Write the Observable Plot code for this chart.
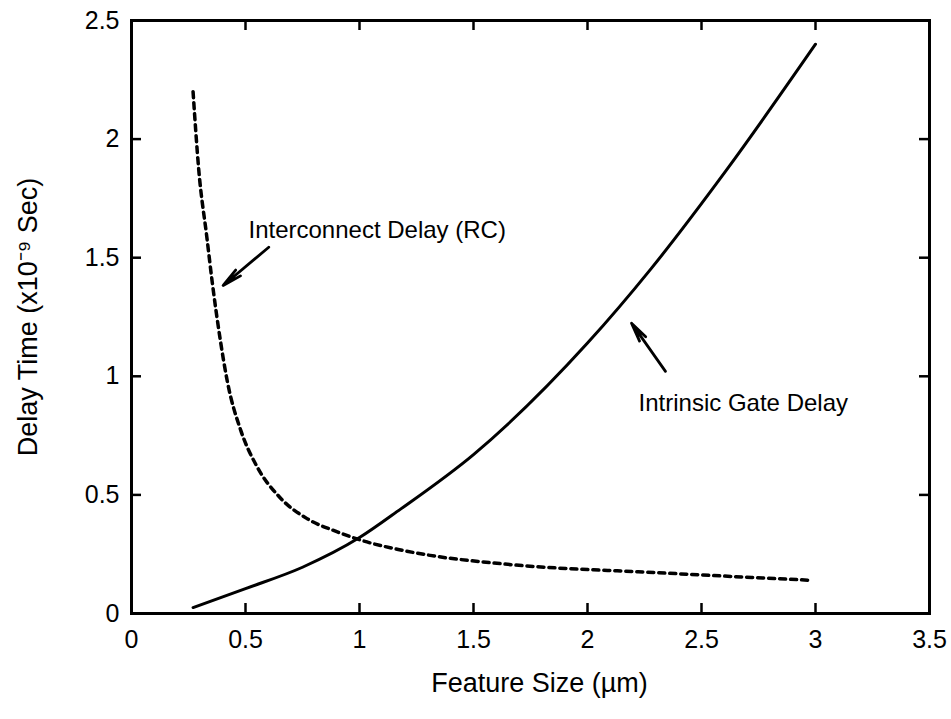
<!DOCTYPE html>
<html>
<head>
<meta charset="utf-8">
<script src="https://cdn.jsdelivr.net/npm/d3@7"></script>
<script src="https://cdn.jsdelivr.net/npm/@observablehq/plot@0.6"></script>
<style>
  html, body { margin: 0; padding: 0; background: #fff; }
  #chart { width: 951px; height: 719px; }
</style>
</head>
<body>
<div id="chart"></div>
<script>
// Intrinsic gate delay (solid curve)
const gateX = [0.27, 0.5, 0.75, 1.0, 1.18, 1.5, 2.0, 2.28, 2.61, 3.0];
const gateY = [0.025, 0.105, 0.195, 0.32, 0.44, 0.67, 1.14, 1.455, 1.87, 2.40];

// Interconnect delay RC (dashed curve)
const rcX = [0.27, 0.295, 0.33, 0.355, 0.39, 0.42, 0.48, 0.55, 0.65, 0.77, 0.90, 1.02, 1.17, 1.31, 1.62, 2.35, 2.98];
const rcY = [2.20, 1.87, 1.59, 1.39, 1.15, 0.98, 0.77, 0.62, 0.49, 0.40, 0.345, 0.305, 0.27, 0.245, 0.21, 0.17, 0.14];

// Ticks
const xTicks = [0, 0.5, 1, 1.5, 2, 2.5, 3, 3.5];
const yTicks = [0, 0.5, 1, 1.5, 2, 2.5];

// Labels
const xLabel = "Feature Size (\u00b5m)";
const yLabel = "Delay Time (x10\u207b\u2079 Sec)";
const annoText = ["Interconnect Delay (RC)", "Intrinsic Gate Delay"];
const annoX = [0.513, 2.224];
const annoY = [1.615, 0.885];
// arrows: tail -> tip
const arrowX1 = [0.602, 2.342];
const arrowY1 = [1.544, 1.021];
const arrowX2 = [0.402, 2.193];
const arrowY2 = [1.383, 1.224];

const gate = gateX.map((x, i) => ({x, y: gateY[i]}));
const rc = rcX.map((x, i) => ({x, y: rcY[i]}));
const annos = annoText.map((t, i) => ({t, x: annoX[i], y: annoY[i]}));
const arrows = arrowX1.map((x1, i) => ({x1, y1: arrowY1[i], x2: arrowX2[i], y2: arrowY2[i]}));

const W = 951, H = 719;
const mL = 131, mR = 22, mT = 20, mB = 106;
const frameW = W - mL - mR, frameH = H - mT - mB;
const tickLen = 10;
const fontSize = 24;
const tickStyle = {stroke: "#000", strokeWidth: 2.5, strokeOpacity: 1};

const chart = Plot.plot({
  width: W,
  height: H,
  marginLeft: mL,
  marginRight: mR,
  marginTop: mT,
  marginBottom: mB,
  style: {fontFamily: "'Liberation Sans', Arial, Helvetica, sans-serif", color: "#000", background: "#fff"},
  x: {domain: [0, 3.5]},
  y: {domain: [0, 2.5]},
  marks: [
    // tick labels
    Plot.axisX(xTicks, {anchor: "bottom", tickSize: 0, tickPadding: 17, fontSize: 25, label: null, tickFormat: d => String(d)}),
    Plot.axisY(yTicks, {anchor: "left", tickSize: 0, tickPadding: 12, fontSize: 25, label: null, tickFormat: d => String(d)}),
    // inward ticks: full-span tick marks trimmed with pixel insets
    Plot.tickX(xTicks, {x: d => d, insetTop: frameH - tickLen, ...tickStyle}),
    Plot.tickX(xTicks, {x: d => d, insetBottom: frameH - tickLen, ...tickStyle}),
    Plot.tickY(yTicks, {y: d => d, insetRight: frameW - tickLen, ...tickStyle}),
    Plot.tickY(yTicks, {y: d => d, insetLeft: frameW - tickLen, ...tickStyle}),
    Plot.frame({stroke: "#000", strokeWidth: 3}),
    // curves
    Plot.line(rc, {x: "x", y: "y", curve: "monotone-x", stroke: "#000", strokeWidth: 3.5, strokeDasharray: "6,5"}),
    Plot.line(gate, {x: "x", y: "y", curve: "monotone-x", stroke: "#000", strokeWidth: 3}),
    // annotations
    Plot.text(annos, {x: "x", y: "y", text: "t", textAnchor: "start", fontSize, fill: "#000"}),
    Plot.arrow(arrows, {x1: "x1", y1: "y1", x2: "x2", y2: "y2", stroke: "#000", strokeWidth: 2.8, headLength: 16, headAngle: 22}),
    // axis titles
    Plot.text([xLabel], {frameAnchor: "bottom", dx: 9, dy: 78, textAnchor: "middle", fontSize: 27, fill: "#000", text: d => d}),
    Plot.text([yLabel], {frameAnchor: "left", dx: -103, textAnchor: "middle", rotate: -90, fontSize: 27, fill: "#000", text: d => d})
  ]
});
document.getElementById("chart").appendChild(chart);
</script>
</body>
</html>
